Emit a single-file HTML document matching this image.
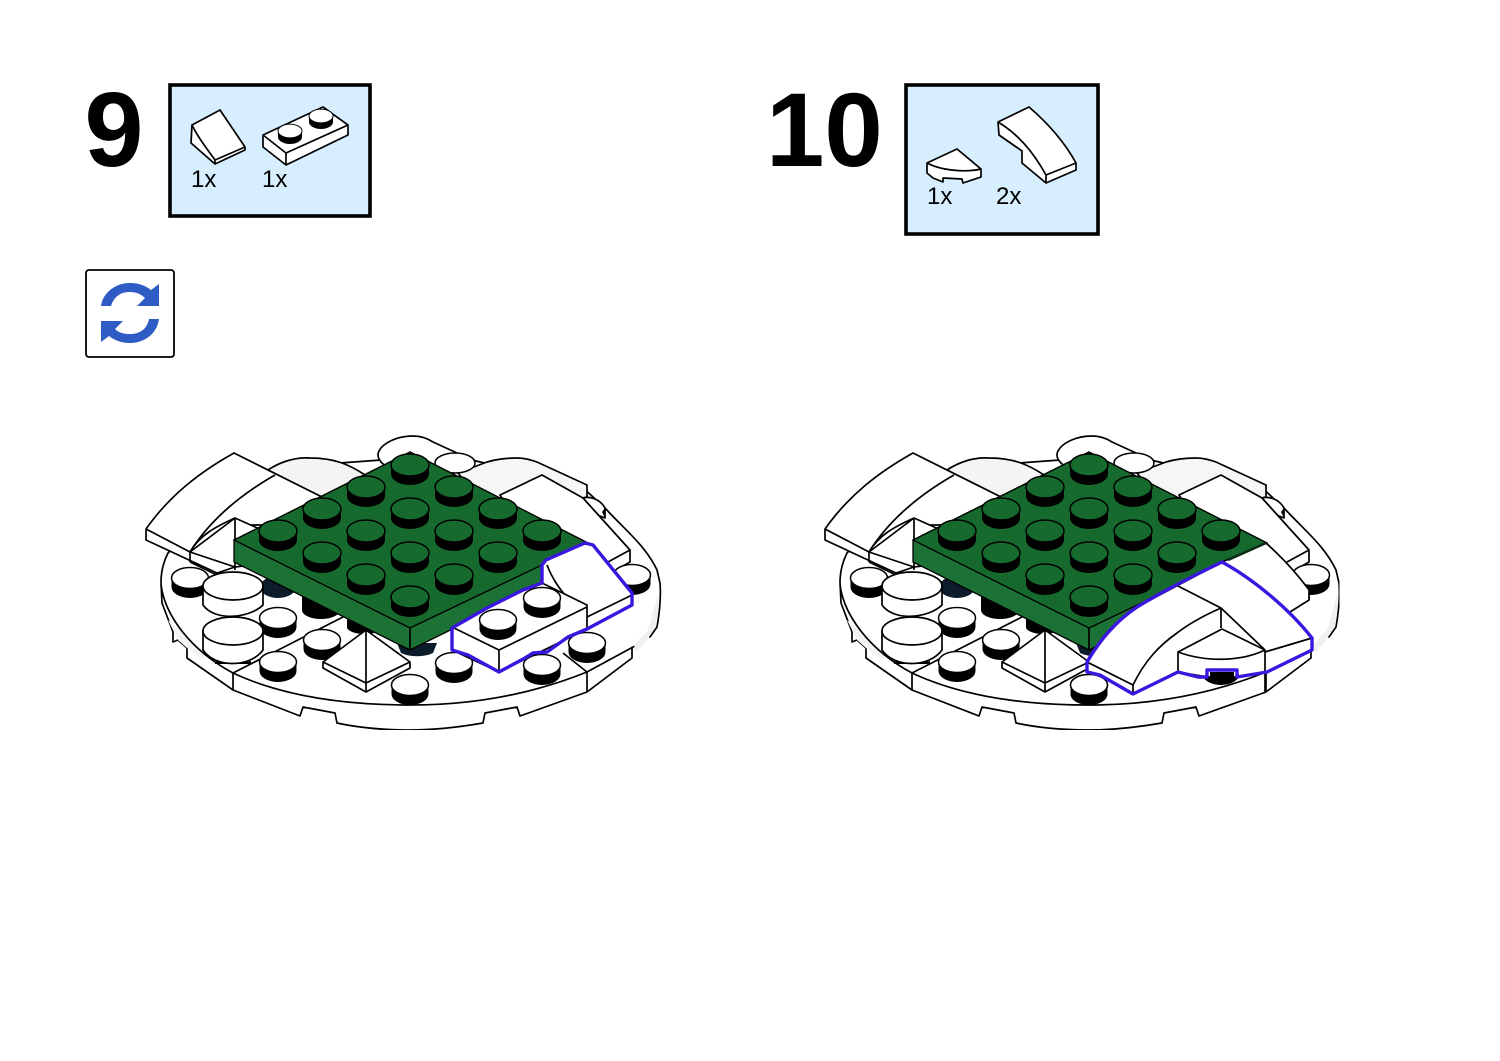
<!DOCTYPE html>
<html>
<head>
<meta charset="utf-8">
<style>
html,body{margin:0;padding:0;background:#fff;width:1500px;height:1061px;overflow:hidden}
svg{display:block}
text{font-family:"Liberation Sans",sans-serif}
.l{fill:#fff;stroke:#000;stroke-width:1.700;stroke-linejoin:round}
.n{fill:none;stroke:#000;stroke-width:1.700;stroke-linejoin:round}
.b{fill:none;stroke:#3a18e0;stroke-width:3.400;stroke-linejoin:round}
</style>
</head>
<body>
<svg width="1500" height="1061" viewBox="0 0 1500 1061" xmlns="http://www.w3.org/2000/svg">
<defs>
<filter id="soft" x="0" y="0" width="100%" height="100%"><feGaussianBlur stdDeviation="0.35"/></filter>
<g id="ws"><path d="M-18.500,0v9a18.500,11 0 0 0 37,0v-9z" fill="#000"/><ellipse rx="18.500" ry="10.500" fill="#fff" stroke="#000" stroke-width="1.500"/></g>
<g id="gs"><path d="M-19,0v9a19,11 0 0 0 38,0v-9z" fill="#000"/><ellipse rx="19" ry="11" fill="#176a2e" stroke="#000" stroke-width="1.500"/></g>
<g id="base">
<path class="l" d="M161,582L162,603L173,632V642L178,640L187,648V658L233,690L300,716L303,707L335,713L337,723C360,728 385,730 410,730C435,730 460,727 483,723L485,713L517,707L520,716L587,692L632,658V648L642,640L647,633L650,637L657,627C660,610 661,595 660,583L657,570C645,545 625,530 605,508L580,485L450,455L340,463L260,490L190,530L168,553C163,563 161,572 161,582Z"/>
<path d="M636,652L645,643L655,628C658,615 659,605 658,595L648,630L634,645Z" fill="#f0f0f0"/>
<path d="M168,620L178,640L187,648L203,660L205,652L180,630Z" fill="#f3f3f3"/>
<path class="n" d="M161,585C165,615 190,650 233,673C280,695 340,705 410,705C470,705 530,695 587,672L633,647"/>
<path class="n" d="M233,673V690M587,672V692M233,673L343,617M563,653L587,672M390,672L410,662"/>
<!-- back pieces -->
<path d="M458,473L487,462C497,459 507,458 517,458C525,458 531,460 537,462L587,485V497L540,510L480,500Z" fill="#f6f6f6" stroke="#000" stroke-width="1.700"/>
<path class="l" d="M382,463C378,459 377,455 379,451C383,443 397,436 413,436C420,436 427,438 433,442L457,453L440,470L390,470Z"/>
<ellipse cx="455" cy="463" rx="20" ry="10" fill="#fff" stroke="#000" stroke-width="1.500"/>
<path class="l" d="M583,498C590,496 600,499 605,508V518L595,514Z"/>
<path d="M602,512L605,508V518Z" fill="#000"/>
<path d="M268,470C280,462 295,457 310,458C335,458 350,465 365,475L320,500Z" fill="#f4f4f4" stroke="#000" stroke-width="1.700"/>
<path class="l" d="M275,475C265,482 260,490 260,497C260,505 262,512 264,522L300,530L322,497Z"/>
<!-- left tile -->
<path class="l" d="M146,529C170,495 200,472 234,453L322,497L300,525L235,525V567L217,573L146,540Z"/>
<path class="n" d="M146,529L190,552V562M190,552C210,520 240,495 275,475"/>
<path class="l" d="M235,518L273,535L290,560L235,567L190,552Z"/>
<path class="n" d="M235,518V570M190,552C200,535 215,527 235,518M190,562L217,575"/>
<!-- right box -->
<path class="l" d="M500,495L542,475L583,498L630,550V562L590,585L540,560Z"/>
<path class="n" d="M608,562L630,550"/>
<path class="l" d="M587,543C600,555 618,575 630,590V600L590,622L540,600Z"/>
<use href="#ws" x="632" y="575"/>
<!-- under-plate studs -->
<use href="#ws" x="190" y="578"/>
<ellipse cx="278" cy="587" rx="18" ry="11" fill="#0c1b2b"/>
<path d="M302,590h38v20a19,9 0 0 1-38,0z" fill="#000"/>
<path d="M347,610h35v18a18,8 0 0 1-35,0z" fill="#000"/>
<path d="M397,643h40l-4,10a20,8 0 0 1-32,0z" fill="#0c1b2b"/>
<use href="#ws" x="278" y="618"/>
<use href="#ws" x="322" y="640"/>
<use href="#ws" x="278" y="662"/>
<use href="#ws" x="410" y="685"/>
<use href="#ws" x="454" y="663"/>
<use href="#ws" x="542" y="665"/>
<use href="#ws" x="587" y="643"/>
<!-- pyramid slope -->
<path class="l" d="M323,662L366,630L410,662V668L366,692L323,668Z"/>
<path class="n" d="M323,662L366,683L410,662M366,630V692"/>
<!-- large cylinders -->
<path class="l" d="M203,586V605C215,622 250,618 263,605V586Z"/>
<ellipse class="l" cx="233" cy="586" rx="30" ry="14"/>
<path d="M215,661a25,5 0 0 0 36,0v3h-36z" fill="#000"/>
<path class="l" d="M203,631V650C215,668 250,668 263,650V631Z"/>
<ellipse class="l" cx="233" cy="631" rx="30" ry="14"/>
<!-- green plate -->
<path d="M234,540V562L410,650L588,562V543L410,452Z" fill="#1b7234" stroke="#000" stroke-width="1.300"/>
<path d="M234,540L410,628L588,543L410,452Z" fill="#176a2e" stroke="#000" stroke-width="1.300"/>
<path class="n" d="M410,628V650"/>
<use href="#gs" x="410" y="465"/>
<use href="#gs" x="366" y="487"/><use href="#gs" x="454" y="487"/>
<use href="#gs" x="322" y="509"/><use href="#gs" x="410" y="509"/><use href="#gs" x="498" y="509"/>
<use href="#gs" x="278" y="531"/><use href="#gs" x="366" y="531"/><use href="#gs" x="454" y="531"/><use href="#gs" x="542" y="531"/>
<use href="#gs" x="322" y="553"/><use href="#gs" x="410" y="553"/><use href="#gs" x="498" y="553"/>
<use href="#gs" x="366" y="575"/><use href="#gs" x="454" y="575"/>
<use href="#gs" x="410" y="597"/>
</g>
</defs>

<g filter="url(#soft)">
<use href="#base"/>
<use href="#base" x="679"/>

<!-- left model step 9 additions -->
<path d="M543,563L585,543L593,545L632,593V605L587,629L560,600L542,585Z" fill="#fff"/>
<path class="n" d="M547,565C552,578 560,590 567,597M587,617L632,595"/>
<path class="l" d="M452,628L487,608L523,590L542,583L587,605V629L499,672L452,650Z"/>
<path class="n" d="M454,628L499,650L587,607M499,650V672"/>
<use href="#ws" x="498" y="620"/>
<use href="#ws" x="542" y="598"/>
<path class="b" d="M452,628L487,608L523,590L542,583V565L546,560L585,543L593,545L632,593V605L587,629L568,637L547,652L533,653L525,658L499,672L468,655L452,650Z"/>

<!-- right model step 10 additions -->
<use href="#ws" x="1089" y="685"/>
<path d="M1222,562L1266,543C1285,560 1298,575 1309,590V600L1290,612L1312,638L1267,640Z" fill="#fff"/>
<path class="n" d="M1222,562L1266,543C1285,560 1298,575 1309,590V600L1290,612"/>
<path d="M1228,560L1266,543" stroke="#0a2a14" stroke-width="2.500" fill="none"/>
<path class="l" d="M1222,562C1255,580 1290,610 1312,638V650L1267,672L1237,677H1207L1198,677L1178,672L1133,694L1100,675L1087,672V662C1100,640 1115,622 1137,607Z"/>
<path class="n" d="M1087,662L1133,685V694M1133,685C1145,660 1160,645 1177,633C1190,623 1205,615 1221,608L1178,586M1221,608V628M1221,608L1265,650"/>
<path class="l" d="M1178,652L1222,629L1265,650V672L1237,677V670H1207V677L1178,672Z"/>
<path class="n" d="M1178,652C1205,662 1240,662 1265,650M1265,672V692M1265,652L1312,638"/>
<rect x="1210" y="672" width="24" height="8" fill="#000"/>
<path class="b" d="M1222,562C1255,580 1290,610 1312,638V650L1267,672L1237,677V670H1207V677L1198,677L1178,672L1133,694L1100,675L1087,672V662C1100,640 1115,622 1137,607C1165,590 1195,575 1222,562Z"/>

<!-- headers -->
<text x="84.500" y="166" font-size="106" font-weight="700" fill="#000">9</text>
<text x="766" y="166" font-size="105" font-weight="700" fill="#000">10</text>

<rect x="170" y="85" width="200" height="131" fill="#d7eeff" stroke="#000" stroke-width="3.600"/>
<rect x="906" y="85" width="192" height="149" fill="#d7eeff" stroke="#000" stroke-width="3.600"/>
<text x="191" y="187" font-size="24" fill="#000">1x</text>
<text x="262" y="187" font-size="24" fill="#000">1x</text>
<text x="927" y="204" font-size="24" fill="#000">1x</text>
<text x="996" y="204" font-size="24" fill="#000">2x</text>

<!-- part: slope -->
<path class="l" d="M192,125L220,110L245,147V150L215,164L191,143Z"/>
<path class="n" d="M192,125C198,138 208,150 215,160L245,147M215,160V164"/>
<!-- part: 1x2 plate -->
<path class="l" d="M263,135L323,107L348,125V135L286,165L263,147Z"/>
<path class="n" d="M263,135L286,153L348,125M286,153V165"/>
<g transform="translate(290,131) scale(.65)"><use href="#ws"/></g>
<g transform="translate(321,116) scale(.65)"><use href="#ws"/></g>
<!-- part: quarter tile -->
<path class="l" d="M927,163L957,149L981,169V177L963,183L962,179L943,178V182L933,178L927,173Z"/>
<path class="n" d="M927,163C940,170 965,173 981,169"/>
<!-- part: curved slope -->
<path class="l" d="M998,122L1029,107C1050,125 1065,143 1076,163V170L1046,183L1022,163V151L999,135Z"/>
<path class="n" d="M998,122C1020,135 1035,155 1046,175L1076,163M1046,175V183"/>

<!-- rotate icon -->
<rect x="86" y="270" width="88" height="87" rx="3" fill="#fff" stroke="#000" stroke-width="1.800"/>
<path fill="#2f5bc4" d="M101,306C103,292 116,283 130,283C139,283 146,286 151,290L159,284V306H137L145,298C141,294 136,292 130,292C120,292 114,297 111,306Z"/>
<path fill="#2f5bc4" d="M159,319C157,334 144,343 130,343C121,343 114,340 109,336L101,342V321H123L115,329C119,333 124,334 130,334C140,334 147,329 149,319Z"/>
</g>
</svg>
</body>
</html>
